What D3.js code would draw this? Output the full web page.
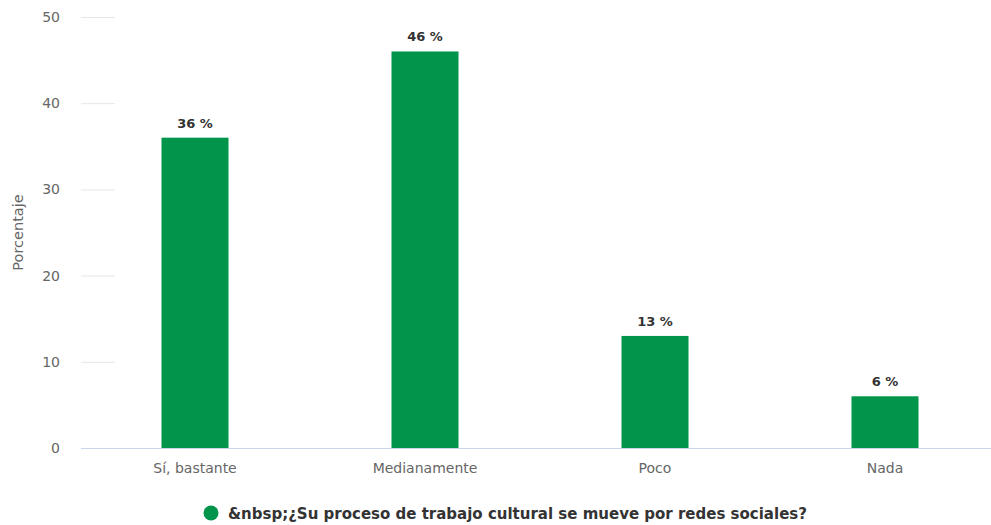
<!DOCTYPE html>
<html>
<head>
<meta charset="utf-8">
<script src="https://cdn.jsdelivr.net/npm/d3@7"></script>
<style>
  body { margin: 0; background: #fff; }
  text { font-family: "DejaVu Sans", sans-serif; }
</style>
</head>
<body>
<div id="container"></div>
<script>
let categories = ["Sí, bastante", "Medianamente", "Poco", "Nada"];
let values = [36, 46, 13, 6];
let yTicks = [0, 10, 20, 30, 40, 50];
let seriesName = "&nbsp;¿Su proceso de trabajo cultural se mueve por redes sociales?";

let w = 991;
let h = 525;
let barColor = "#00954a";

let viz = d3.select("#container")
  .append("svg")
    .attr("width", w)
    .attr("height", h)
;

let x = d3.scaleBand().domain(categories).range([80, 1000]);
let y = d3.scaleLinear().domain([0, 50]).range([448, 17]);
let barW = 67;

// short grid marks next to the tick labels
viz.selectAll(".grid").data(yTicks.filter(d => d > 0)).enter()
  .append("line")
    .attr("x1", 81).attr("x2", 115)
    .attr("y1", d => y(d) + 0.5).attr("y2", d => y(d) + 0.5)
    .attr("stroke", "#e6e6e6")
;

viz.selectAll(".ytick").data(yTicks).enter()
  .append("text")
    .attr("x", 60)
    .attr("y", d => y(d) + 5)
    .attr("text-anchor", "end")
    .attr("font-size", 14)
    .attr("fill", "#666")
    .text(d => d)
;

viz.append("text")
  .attr("transform", "translate(23," + y(25) + ") rotate(-90)")
  .attr("text-anchor", "middle")
  .attr("font-size", 14.5)
  .attr("fill", "#666")
  .text("Porcentaje")
;

viz.selectAll(".bar").data(values).enter()
  .append("rect")
    .attr("x", (d, i) => x(categories[i]) + x.bandwidth() / 2 - barW / 2)
    .attr("y", d => y(d))
    .attr("width", barW)
    .attr("height", d => y(0) - y(d))
    .attr("fill", barColor)
;

viz.append("line")
  .attr("x1", 81).attr("x2", w)
  .attr("y1", y(0) + 0.5).attr("y2", y(0) + 0.5)
  .attr("stroke", "#ccd6eb")
;

viz.selectAll(".lbl").data(values).enter()
  .append("text")
    .attr("x", (d, i) => x(categories[i]) + x.bandwidth() / 2)
    .attr("y", d => y(d) - 10)
    .attr("text-anchor", "middle")
    .attr("font-size", 13)
    .attr("font-weight", "bold")
    .attr("fill", "#333")
    .text(d => d + " %")
;

viz.selectAll(".xtick").data(categories).enter()
  .append("text")
    .attr("x", d => x(d) + x.bandwidth() / 2)
    .attr("y", 473)
    .attr("text-anchor", "middle")
    .attr("font-size", 14)
    .attr("fill", "#666")
    .text(d => d)
;

// legend
viz.append("circle")
  .attr("cx", 211).attr("cy", 513).attr("r", 7.5)
  .attr("fill", barColor)
;
viz.append("text")
  .attr("x", 228).attr("y", 518.5)
  .attr("font-size", 15)
  .attr("font-weight", "bold")
  .attr("fill", "#333")
  .text(seriesName)
;
</script>
</body>
</html>
